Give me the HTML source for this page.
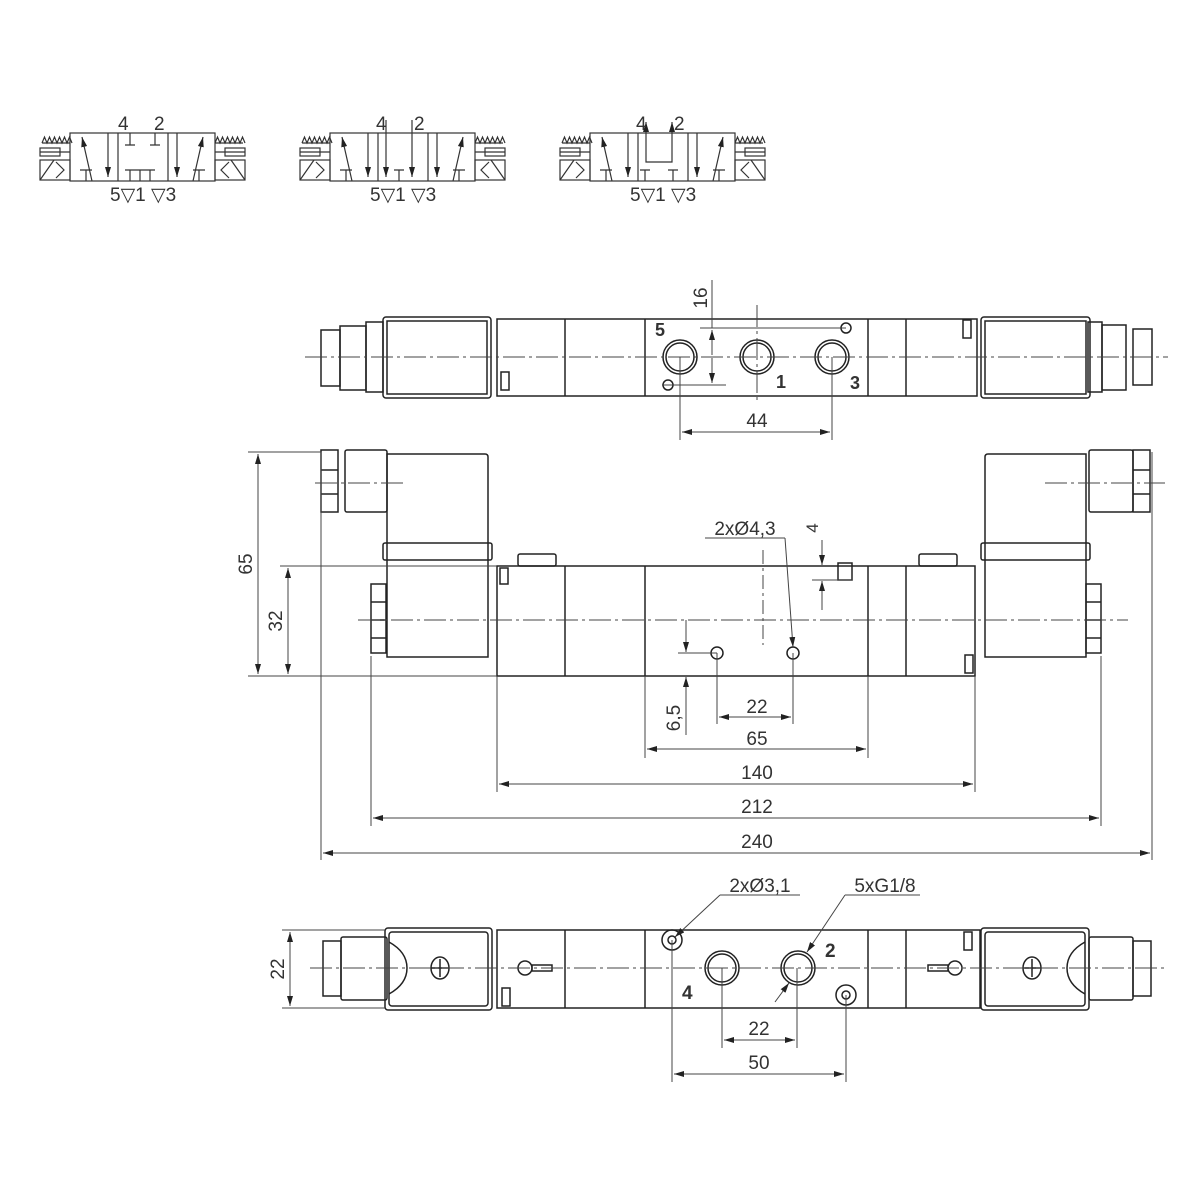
<!DOCTYPE html>
<html><head><meta charset="utf-8"><style>
html,body{margin:0;padding:0;background:#fff}
svg{display:block}
text{font-family:"Liberation Sans",sans-serif;fill:#333}
</style></head><body>
<svg width="1200" height="1200" viewBox="0 0 1200 1200" xmlns="http://www.w3.org/2000/svg">
<defs>
<marker id="a" viewBox="0 0 10 6" refX="10" refY="3" markerWidth="10" markerHeight="6" orient="auto-start-reverse" markerUnits="userSpaceOnUse"><path d="M0,0 L10,3 L0,6 z" fill="#222"/></marker>
<g id="sym" fill="none" stroke="#333" stroke-width="1.2">
<rect x="40" y="23" width="145" height="48"/>
<line x1="88" y1="23" x2="88" y2="71"/><line x1="138" y1="23" x2="138" y2="71"/>
<path d="M12,33 l2.5,-6 l2.5,6 l2.5,-6 l2.5,6 l2.5,-6 l2.5,6 l2.5,-6 l2.5,6 l2.5,-6 l2.5,6 l2.5,-6 l2.5,6 M40,33 h-28" />
<rect x="10" y="38" width="20" height="8"/><line x1="10" y1="42" x2="40" y2="42"/>
<rect x="10" y="50" width="30" height="20"/><path d="M10,70 L24,50 M26,52 l8,8 l-8,8"/>
<path d="M185,33 l2.5,-6 l2.5,6 l2.5,-6 l2.5,6 l2.5,-6 l2.5,6 l2.5,-6 l2.5,6 l2.5,-6 l2.5,6 l2.5,-6 l2.5,6 M185,33 h28" />
<rect x="195" y="38" width="20" height="8"/><line x1="185" y1="42" x2="215" y2="42"/>
<rect x="185" y="50" width="30" height="20"/><path d="M215,70 L201,50 M199,52 l-8,8 l8,8"/>
<line x1="62" y1="71" x2="52" y2="27" marker-end="url(#a)"/>
<line x1="78" y1="23" x2="78" y2="67" marker-end="url(#a)"/>
<path d="M50,60 h12 M56,60 v11"/>
<line x1="163" y1="71" x2="173" y2="27" marker-end="url(#a)"/>
<line x1="147" y1="23" x2="147" y2="67" marker-end="url(#a)"/>
<path d="M163,60 h12 M169,60 v11"/>
</g>
</defs>

<!-- symbols -->
<g transform="translate(30,110)">
<use href="#sym"/>
<g fill="none" stroke="#333" stroke-width="1.2">
<path d="M100,23 v12 M95,35 h10 M125,23 v12 M120,35 h10 M95,60 h10 M100,60 v11 M105,60 h10 M110,60 v11 M115,60 h10 M120,60 v11"/>
</g>
<text x="88" y="20" font-size="19">4</text><text x="124" y="20" font-size="19">2</text>
<text x="80" y="91" font-size="19">5▽1 ▽3</text>
</g>
<g transform="translate(290,110)">
<use href="#sym"/>
<g fill="none" stroke="#333" stroke-width="1.2">
<line x1="96" y1="10" x2="96" y2="67" marker-end="url(#a)"/>
<line x1="122" y1="10" x2="122" y2="67" marker-end="url(#a)"/>
<path d="M104,60 h10 M109,60 v11"/>
</g>
<text x="86" y="20" font-size="19">4</text><text x="124" y="20" font-size="19">2</text>
<text x="80" y="91" font-size="19">5▽1 ▽3</text>
</g>
<g transform="translate(550,110)">
<use href="#sym"/>
<g fill="none" stroke="#333" stroke-width="1.2">
<line x1="96" y1="43" x2="96" y2="12" marker-end="url(#a)"/>
<line x1="122" y1="43" x2="122" y2="12" marker-end="url(#a)"/>
<path d="M96,43 v9 h26 v-9 M90,60 h10 M95,60 v11 M118,60 h10 M123,60 v11"/>
</g>
<text x="86" y="20" font-size="19">4</text><text x="124" y="20" font-size="19">2</text>
<text x="80" y="91" font-size="19">5▽1 ▽3</text>
</g>

<!-- TOP VIEW -->
<g fill="none" stroke="#222" stroke-width="1.5">
<rect x="321" y="330" width="19" height="56"/>
<rect x="340" y="326" width="26" height="64"/>
<rect x="366" y="322" width="17" height="70"/>
<rect x="383" y="317" width="108" height="81" rx="3"/>
<rect x="387" y="321" width="100" height="73"/>
<rect x="497" y="319" width="480" height="77"/>
<line x1="565" y1="319" x2="565" y2="396"/><line x1="645" y1="319" x2="645" y2="396"/>
<line x1="868" y1="319" x2="868" y2="396"/><line x1="906" y1="319" x2="906" y2="396"/>
<rect x="981" y="317" width="109" height="81" rx="3"/>
<rect x="985" y="321" width="101" height="73"/>
<rect x="1088" y="322" width="14" height="70"/>
<rect x="1102" y="325" width="24" height="65"/>
<rect x="1133" y="329" width="19" height="56"/>
<rect x="501" y="372" width="8" height="18"/>
<rect x="963" y="320" width="8" height="18"/>
<circle cx="680" cy="357" r="17"/><circle cx="680" cy="357" r="14"/>
<circle cx="757" cy="357" r="17"/><circle cx="757" cy="357" r="14"/>
<circle cx="832" cy="357" r="17"/><circle cx="832" cy="357" r="14"/>
<circle cx="668" cy="385" r="5"/><circle cx="846" cy="328" r="5"/>
</g>
<g stroke="#444" stroke-width="1" fill="none">
<line x1="305" y1="357" x2="1168" y2="357" stroke-dasharray="22,4,3,4"/>
<line x1="757" y1="305" x2="757" y2="400" stroke-dasharray="22,4,3,4"/>
<line x1="700" y1="328" x2="846" y2="328"/><line x1="662" y1="385" x2="726" y2="385"/>
<line x1="712" y1="280" x2="712" y2="328"/>
<line x1="712" y1="355" x2="712" y2="330" marker-end="url(#a)"/>
<line x1="712" y1="358" x2="712" y2="383" marker-end="url(#a)"/>
<line x1="680" y1="357" x2="680" y2="440"/><line x1="832" y1="357" x2="832" y2="440"/>
<line x1="682" y1="432" x2="830" y2="432" marker-start="url(#a)" marker-end="url(#a)"/>
</g>
<text x="655" y="336" font-size="18" font-weight="bold">5</text><text x="776" y="388" font-size="18" font-weight="bold">1</text><text x="850" y="389" font-size="18" font-weight="bold">3</text>
<text x="757" y="427" font-size="19" text-anchor="middle">44</text>
<text transform="translate(707,298) rotate(-90)" font-size="19" text-anchor="middle">16</text>

<!-- FRONT VIEW -->
<g fill="none" stroke="#222" stroke-width="1.5">
<rect x="321" y="450" width="17" height="62"/>
<line x1="321" y1="470" x2="338" y2="470"/><line x1="321" y1="494" x2="338" y2="494"/>
<rect x="345" y="450" width="42" height="62" rx="2"/>
<path d="M387,657 V454 h98 q3,0 3,3 V657 z"/>
<rect x="383" y="543" width="109" height="17" rx="2"/>
<rect x="371" y="584" width="15" height="69"/>
<line x1="371" y1="602" x2="386" y2="602"/><line x1="371" y1="620" x2="386" y2="620"/><line x1="371" y1="638" x2="386" y2="638"/>
<rect x="497" y="566" width="478" height="110"/>
<line x1="565" y1="566" x2="565" y2="676"/><line x1="645" y1="566" x2="645" y2="676"/>
<line x1="868" y1="566" x2="868" y2="676"/><line x1="906" y1="566" x2="906" y2="676"/>
<rect x="518" y="554" width="38" height="12" rx="2"/>
<rect x="919" y="554" width="38" height="12" rx="2"/>
<rect x="500" y="568" width="8" height="16"/>
<rect x="965" y="655" width="8" height="18"/>
<rect x="838" y="563" width="14" height="17"/>
<rect x="1133" y="450" width="17" height="62"/>
<line x1="1133" y1="470" x2="1150" y2="470"/><line x1="1133" y1="494" x2="1150" y2="494"/>
<rect x="1089" y="450" width="44" height="62" rx="2"/>
<path d="M985,657 V457 q0,-3 3,-3 h98 V657 z"/>
<rect x="981" y="543" width="109" height="17" rx="2"/>
<rect x="1086" y="584" width="15" height="69"/>
<line x1="1086" y1="602" x2="1101" y2="602"/><line x1="1086" y1="620" x2="1101" y2="620"/><line x1="1086" y1="638" x2="1101" y2="638"/>
<circle cx="717" cy="653" r="6"/><circle cx="793" cy="653" r="6"/>
</g>
<g stroke="#444" stroke-width="1" fill="none">
<line x1="358" y1="620" x2="1128" y2="620" stroke-dasharray="22,4,3,4"/>
<line x1="315" y1="483" x2="405" y2="483" stroke-dasharray="22,4,3,4"/>
<line x1="1045" y1="483" x2="1165" y2="483" stroke-dasharray="22,4,3,4"/>
<line x1="763" y1="550" x2="763" y2="645" stroke-dasharray="14,4,3,4"/>
<line x1="248" y1="452" x2="321" y2="452"/>
<line x1="248" y1="676" x2="497" y2="676"/>
<line x1="280" y1="566" x2="497" y2="566"/>
<line x1="258" y1="454" x2="258" y2="674" marker-start="url(#a)" marker-end="url(#a)"/>
<line x1="288" y1="568" x2="288" y2="674" marker-start="url(#a)" marker-end="url(#a)"/>
<line x1="812" y1="580" x2="852" y2="580"/>
<line x1="822" y1="540" x2="822" y2="565" marker-end="url(#a)"/>
<line x1="822" y1="610" x2="822" y2="581" marker-end="url(#a)"/>
<line x1="678" y1="653" x2="717" y2="653"/>
<line x1="686" y1="620" x2="686" y2="652" marker-end="url(#a)"/>
<line x1="686" y1="735" x2="686" y2="677" marker-end="url(#a)"/>
<line x1="705" y1="538" x2="785" y2="538"/><line x1="785" y1="538" x2="793" y2="647" marker-end="url(#a)"/>
<line x1="321" y1="452" x2="321" y2="860"/><line x1="1152" y1="452" x2="1152" y2="860"/>
<line x1="371" y1="656" x2="371" y2="826"/><line x1="1101" y1="656" x2="1101" y2="826"/>
<line x1="497" y1="676" x2="497" y2="792"/><line x1="975" y1="676" x2="975" y2="792"/>
<line x1="645" y1="676" x2="645" y2="758"/><line x1="868" y1="676" x2="868" y2="758"/>
<line x1="717" y1="653" x2="717" y2="724"/><line x1="793" y1="653" x2="793" y2="724"/>
<line x1="719" y1="717" x2="791" y2="717" marker-start="url(#a)" marker-end="url(#a)"/>
<line x1="647" y1="749" x2="866" y2="749" marker-start="url(#a)" marker-end="url(#a)"/>
<line x1="499" y1="784" x2="973" y2="784" marker-start="url(#a)" marker-end="url(#a)"/>
<line x1="373" y1="818" x2="1099" y2="818" marker-start="url(#a)" marker-end="url(#a)"/>
<line x1="323" y1="853" x2="1150" y2="853" marker-start="url(#a)" marker-end="url(#a)"/>
</g>
<text transform="translate(252,564) rotate(-90)" font-size="19" text-anchor="middle">65</text>
<text transform="translate(282,621) rotate(-90)" font-size="19" text-anchor="middle">32</text>
<text transform="translate(818,528) rotate(-90)" font-size="17" text-anchor="middle">4</text>
<text transform="translate(680,718) rotate(-90)" font-size="19" text-anchor="middle">6,5</text>
<text x="745" y="535" font-size="19" text-anchor="middle">2xØ4,3</text>
<text x="757" y="713" font-size="19" text-anchor="middle">22</text>
<text x="757" y="745" font-size="19" text-anchor="middle">65</text>
<text x="757" y="779" font-size="19" text-anchor="middle">140</text>
<text x="757" y="813" font-size="19" text-anchor="middle">212</text>
<text x="757" y="848" font-size="19" text-anchor="middle">240</text>

<!-- BOTTOM VIEW -->
<g fill="none" stroke="#222" stroke-width="1.5">
<rect x="323" y="941" width="18" height="55"/>
<rect x="341" y="937" width="46" height="63" rx="2"/>
<rect x="385" y="928" width="107" height="82" rx="3"/>
<rect x="389" y="932" width="99" height="74" rx="3"/>
<path d="M389,942 q18,10 18,26 q0,16 -18,26"/>
<ellipse cx="440" cy="968" rx="9" ry="11"/><path d="M431,968 h18 M440,959 v18"/>
<rect x="497" y="930" width="483" height="78"/>
<line x1="565" y1="930" x2="565" y2="1008"/><line x1="645" y1="930" x2="645" y2="1008"/>
<line x1="868" y1="930" x2="868" y2="1008"/><line x1="906" y1="930" x2="906" y2="1008"/>
<rect x="502" y="988" width="8" height="18"/><rect x="964" y="932" width="8" height="18"/>
<circle cx="525" cy="968" r="7"/><rect x="532" y="965" width="20" height="6"/>
<circle cx="955" cy="968" r="7"/><rect x="928" y="965" width="20" height="6"/>
<circle cx="672" cy="940" r="10"/><circle cx="672" cy="940" r="4"/>
<circle cx="846" cy="995" r="10"/><circle cx="846" cy="995" r="4"/>
<circle cx="722" cy="968" r="17"/><circle cx="722" cy="968" r="14"/>
<circle cx="798" cy="968" r="17"/><circle cx="798" cy="968" r="14"/>
<rect x="981" y="928" width="108" height="82" rx="3"/>
<rect x="985" y="932" width="100" height="74" rx="3"/>
<path d="M1085,942 q-18,10 -18,26 q0,16 18,26"/>
<ellipse cx="1032" cy="968" rx="9" ry="11"/><path d="M1023,968 h18 M1032,959 v18"/>
<rect x="1089" y="937" width="44" height="63" rx="2"/>
<rect x="1133" y="941" width="18" height="55"/>
</g>
<g stroke="#444" stroke-width="1" fill="none">
<line x1="310" y1="968" x2="1168" y2="968" stroke-dasharray="22,4,3,4"/>
<line x1="282" y1="930" x2="385" y2="930"/><line x1="282" y1="1008" x2="385" y2="1008"/>
<line x1="290" y1="932" x2="290" y2="1006" marker-start="url(#a)" marker-end="url(#a)"/>
<line x1="672" y1="940" x2="672" y2="1082"/><line x1="846" y1="995" x2="846" y2="1082"/>
<line x1="722" y1="968" x2="722" y2="1048"/><line x1="797" y1="968" x2="797" y2="1048"/>
<line x1="724" y1="1040" x2="795" y2="1040" marker-start="url(#a)" marker-end="url(#a)"/>
<line x1="674" y1="1074" x2="844" y2="1074" marker-start="url(#a)" marker-end="url(#a)"/>
<line x1="720" y1="895" x2="800" y2="895"/><line x1="720" y1="895" x2="675" y2="937" marker-end="url(#a)"/>
<line x1="845" y1="895" x2="920" y2="895"/><line x1="845" y1="895" x2="807" y2="952" marker-end="url(#a)"/>
<line x1="775" y1="1002" x2="789" y2="983" marker-end="url(#a)"/>
</g>
<text transform="translate(284,969) rotate(-90)" font-size="19" text-anchor="middle">22</text>
<text x="760" y="892" font-size="19" text-anchor="middle">2xØ3,1</text>
<text x="885" y="892" font-size="19" text-anchor="middle">5xG1/8</text>
<text x="682" y="999" font-size="19" font-weight="bold">4</text><text x="825" y="957" font-size="19" font-weight="bold">2</text>
<text x="759" y="1035" font-size="19" text-anchor="middle">22</text>
<text x="759" y="1069" font-size="19" text-anchor="middle">50</text>
</svg>
</body></html>
